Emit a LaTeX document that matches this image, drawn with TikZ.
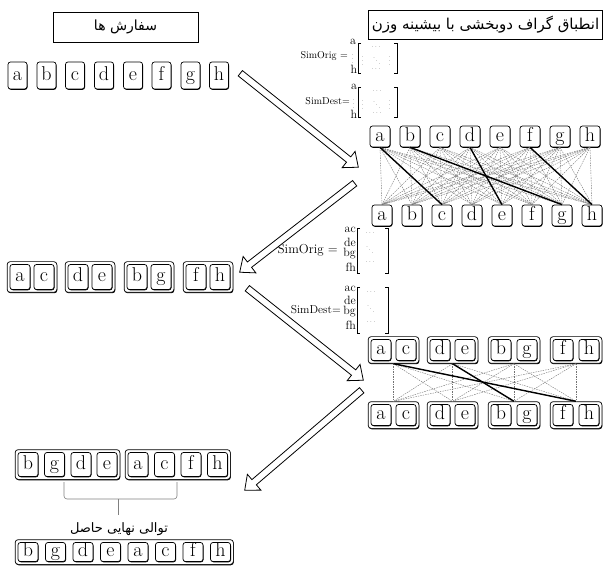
\documentclass[tikz,border=0pt]{standalone}
\usepackage{fontspec}
\newfontfamily\farsi[Script=Arabic]{DejaVu Sans}
\TeXXeTstate=1
\usetikzlibrary{shapes.arrows,shadows,fit,calc,backgrounds}
\tikzset{
  letter/.style={draw, fill=white, rounded corners=2.5pt, line width=0.7pt,
    minimum width=20pt, minimum height=21pt, inner sep=0pt,
    text height=13.5pt, text depth=4pt, font=\fontsize{20}{20}\selectfont,
    drop shadow={shadow xshift=0.5pt, shadow yshift=-0.8pt, opacity=1, fill=black}},
  grp/.style={draw, fill=white, rounded corners=3pt, line width=0.7pt, inner sep=2.5pt,
    drop shadow={shadow xshift=0.5pt, shadow yshift=-0.9pt, opacity=1, fill=black}},
  titlebox/.style={draw, line width=0.6pt, inner sep=0pt},
  simline/.style={black!55, dash pattern=on 1.5pt off 1pt, line width=0.4pt},
  match/.style={line width=1.4pt},
  bigarrow/.style={single arrow, draw, fill=white, line width=0.8pt, minimum width=20pt,
    single arrow head extend=7pt, single arrow tip angle=80, inner xsep=0pt, inner ysep=3pt,
    sloped, allow upside down, anchor=tail},
  simtext/.style={inner sep=0pt, font=\fontsize{10}{10}\selectfont},
  rowlab/.style={inner sep=0pt, font=\fontsize{12}{12}\selectfont},
  dots/.style={inner sep=0pt, font=\fontsize{5}{5}\selectfont},
  bracketline/.style={line width=0.6pt},
  brace/.style={black!50, line width=0.6pt}
}
\begin{document}
\begin{tikzpicture}[x=1pt,y=-1pt]
\useasboundingbox (0,0) rectangle (603,572);
% titles
\node[titlebox, minimum width=145pt, minimum height=30pt, font=\farsi\fontsize{14}{14}\selectfont]
  (ordtitle) at (125.5,27) {\beginR سفارش ها\endR};
\node[titlebox, minimum width=234pt, minimum height=29pt, font=\farsi\fontsize{15}{15}\selectfont]
  (bmtitle) at (485.5,24.5) {\beginR انطباق گراف دوبخشی با بیشینه وزن\endR};
% order row
\foreach \l/\x in {a/17.5,b/46.5,c/75,d/104,e/133,f/161.5,g/190.5,h/219}
  \node[letter, minimum width=19pt, minimum height=27pt] (ord-\l) at (\x,75.5) {\l};
% SimOrig (letters)
\node[simtext, anchor=east] (so1) at (348,56) {SimOrig =};
\node[rowlab] (so1-a) at (353,42) {a};
\node[dots] (so1-v) at (353,56) {$\vdots$};
\node[rowlab] (so1-h) at (354,69) {h};
\draw[bracketline] (361,43) -| (358,73) -- (361,73);
\draw[bracketline] (394,43) -| (397,73) -- (394,73);
\node[dots] at (376,47) {$\cdots$};
\node[dots] at (363,58) {$\vdots$};
\node[dots] at (377,58) {$\ddots$};
\node[dots] at (390,58) {$\vdots$};
\node[dots] at (376,69) {$\cdots$};
% SimDest (letters)
\node[simtext, anchor=east] (sd1) at (350,101) {SimDest=};
\node[rowlab] (sd1-a) at (354,87) {a};
\node[dots] (sd1-v) at (354,101) {$\vdots$};
\node[rowlab] (sd1-h) at (354,114) {h};
\draw[bracketline] (361,87) -| (358,117) -- (361,117);
\draw[bracketline] (394,87) -| (397,117) -- (394,117);
\node[dots] at (377,91) {$\cdots$};
\node[dots] at (363,102) {$\vdots$};
\node[dots] at (377,102) {$\ddots$};
\node[dots] at (390,102) {$\vdots$};
\node[dots] at (377,113) {$\cdots$};
% bipartite graph of letters
\foreach \l [count=\k] in {a,...,h}{
  \node[letter] (top-\l) at ({350+30*\k},136.5) {\l};
  \node[letter] (bot-\l) at ({352+30*\k},215.5) {\l};
}
\foreach \i in {a,...,h}
  \foreach \j in {a,...,h}
    \draw[simline] (top-\i.south) -- (bot-\j.north);
\foreach \i/\j in {a/c,b/g,d/e,f/h}
  \draw[match] (top-\i.south) -- (bot-\j.north);
% middle row of pairs
\foreach \l/\x in {a/20,c/44,d/78,e/102,b/137,g/161,f/196,h/220}
  \node[letter, minimum height=25pt] (mid-\l) at (\x,277) {\l};
\begin{scope}[on background layer]
\foreach \p/\q in {a/c,d/e,b/g,f/h}
  \node[grp, fit=(mid-\p)(mid-\q)] (mid-\p\q) {};
\end{scope}
% SimOrig (pairs)
\node[simtext, anchor=east, font=\fontsize{13}{13}\selectfont] (so2) at (338,250) {SimOrig =};
\foreach \t/\y in {ac/230,de/242,bg/254,fh/267}
  \node[rowlab, anchor=east] (so2-\t) at (356,\y) {\t};
\draw[bracketline] (360,228) -| (357,273) -- (360,273);
\draw[bracketline] (385,228) -| (388,273) -- (385,273);
\node[dots] at (370,233) {$\cdots$};
\node[dots] at (370,247) {$\ddots$};
\node[dots] at (370,262) {$\cdots$};
% SimDest (pairs)
\node[simtext, anchor=east, font=\fontsize{11.5}{11.5}\selectfont] (sd2) at (341,310) {SimDest=};
\foreach \t/\y in {ac/289,de/300,bg/312,fh/325}
  \node[rowlab, anchor=east] (sd2-\t) at (356,\y) {\t};
\draw[bracketline] (360,287) -| (357,333) -- (360,333);
\draw[bracketline] (385,287) -| (388,333) -- (385,333);
\node[dots] at (371,292) {$\cdots$};
\node[dots] at (371,306) {$\ddots$};
\node[dots] at (371,322) {$\cdots$};
% bipartite graph of pairs
\foreach \l/\x in {a/381,c/406,d/440,e/465,b/501,g/527,f/563,h/589}{
  \node[letter] (gtop-\l) at (\x,350) {\l};
  \node[letter] (gbot-\l) at (\x,415) {\l};
}
\begin{scope}[on background layer]
\foreach \p/\q in {a/c,d/e,b/g,f/h}{
  \node[grp, fit=(gtop-\p)(gtop-\q)] (gtop-\p\q) {};
  \node[grp, fit=(gbot-\p)(gbot-\q)] (gbot-\p\q) {};
}
\end{scope}
\foreach \i in {ac,de,bg,fh}
  \foreach \j in {ac,de,bg,fh}
    \draw[simline] (gtop-\i.south) -- (gbot-\j.north);
\foreach \i/\j in {ac/fh,de/bg}
  \draw[match] (gtop-\i.south) -- (gbot-\j.north);
% merged result
\foreach \l/\x in {b/28,g/54.5,d/81,e/107,a/138,c/164.5,f/191,h/217.5}
  \node[letter, minimum height=24pt] (res-\l) at (\x,464.5) {\l};
\begin{scope}[on background layer]
\node[grp, fit=(res-b)(res-e)] (res-left) {};
\node[grp, fit=(res-a)(res-h)] (res-right) {};
\end{scope}
\draw[brace, rounded corners=3pt] (64,482) -- (64,499) -- (177,499) -- (177,482);
\draw[brace] (118,499) -- (118,515);
\node[font=\farsi\fontsize{13}{13}\selectfont, inner sep=0pt] (restext) at (119,529)
  {\beginR توالی نهایی حاصل\endR};
% final sequence
\foreach \l [count=\k] in {b,g,d,e,a,c,f,h}
  \node[letter, minimum height=19pt] (fin-\l) at ({0.5+27.5*\k},552) {\l};
\begin{scope}[on background layer]
\node[grp, fit=(fin-b)(fin-h)] (fin) {};
\end{scope}
% hollow arrows
\coordinate (a1s) at (240,73);  \coordinate (a1e) at (358,167);
\coordinate (a2s) at (355,183); \coordinate (a2e) at (240,272);
\coordinate (a3s) at (247,288); \coordinate (a3e) at (363,380);
\coordinate (a4s) at (362,390); \coordinate (a4e) at (245,490);
\foreach \k in {1,...,4}
  \path let \p1=($(a\k e)-(a\k s)$) in
    (a\k s) -- (a\k e) node[bigarrow, pos=0, minimum height={veclen(\x1,\y1)}] {};
\end{tikzpicture}
\end{document}
